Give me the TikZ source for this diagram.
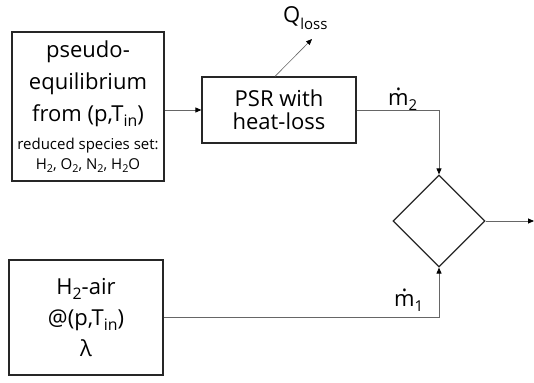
\documentclass[tikz,border=0pt]{standalone}
\usepackage{fontspec}
\usepackage{graphicx}
\setmainfont{Open Sans}
\usetikzlibrary{shapes.geometric,arrows.meta}
\newcommand\lsub[1]{\raisebox{-0.22em}{\scalebox{0.72}{#1}}}
\newcommand\mdot{\leavevmode\setbox0\hbox{m}\rlap{\hbox to\wd0{\hss\raisebox{0.72em}{.}\hss}}m}
\begin{document}
\begin{tikzpicture}[x=1pt,y=1pt,
  box/.style={draw=black!85, line width=1.2pt, inner sep=0pt, align=center},
  conn/.style={draw=black!60, line width=0.8pt},
  tip/.style={-{Triangle[length=6pt,width=5pt,color=black]}},
  bigfont/.style={font=\fontsize{22}{32}\selectfont}
]
\useasboundingbox (0,0) rectangle (534,382);
\node[box, bigfont, minimum width=152, minimum height=149] (b1) at (88, 275.5)
  {pseudo-\\equilibrium\\from (p,T\lsub{in})\\[-4pt]{\fontsize{15}{20}\selectfont reduced species set:}\\[-12pt]{\fontsize{15}{20}\selectfont H\lsub{2}, O\lsub{2}, N\lsub{2}, H\lsub{2}O}};
\node[box, font=\fontsize{22}{23}\selectfont, minimum width=154, minimum height=66] (psr) at (279, 272) {PSR with\\heat-loss};
\node[box, font=\fontsize{22}{31}\selectfont, minimum width=154, minimum height=115] (b3) at (86, 64.5)
  {H\lsub{2}-air\\@(p,T\lsub{in})\\λ};
\node[diamond, draw=black!85, line width=1.2pt, inner sep=0pt, aspect=1, minimum width=92, minimum height=92] (dia) at (439, 161) {};
\node[anchor=base west, inner sep=0pt, font=\fontsize{22}{22}\selectfont] (q) at (283, 359) {Q\raisebox{-7pt}{\fontsize{15}{15}\selectfont loss}};
\node[anchor=base west, inner sep=0pt, font=\fontsize{22}{22}\selectfont] (m2) at (388, 276) {\mdot\raisebox{-5pt}{\fontsize{15}{15}\selectfont 2}};
\node[anchor=base west, inner sep=0pt, font=\fontsize{22}{22}\selectfont] (m1) at (394, 75) {\mdot\raisebox{-5pt}{\fontsize{15}{15}\selectfont 1}};
\coordinate (qend) at (312, 343);
\coordinate (out) at (534, 161);
\draw[conn, tip] (b1.east |- psr.west) -- (psr.west);
\draw[conn, tip, line width=0.6pt] ([xshift=-4pt]psr.north) -- (qend);
\draw[conn, tip] (psr.east) -| (dia.north);
\draw[conn, tip] (b3.east) -| (dia.south);
\draw[conn, tip] (dia.east) -- (out);
\end{tikzpicture}
\end{document}
